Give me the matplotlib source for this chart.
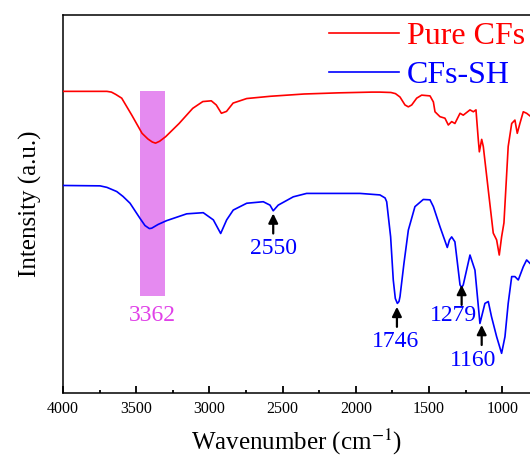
import matplotlib
matplotlib.use('Agg')
import matplotlib.pyplot as plt
from matplotlib.ticker import MultipleLocator

plt.rcParams['font.family'] = ['Liberation Serif', 'DejaVu Serif']
plt.rcParams['mathtext.fontset'] = 'stix'

# FTIR spectra (intensity in arbitrary units, curves already offset)
pure_wn = [4000, 3700, 3669, 3640, 3599, 3530, 3460, 3420, 3390, 3368, 3340, 3299,
           3207, 3114, 3045, 2987, 2953, 2918, 2883, 2838, 2745, 2583, 2353, 2122,
           1891, 1835, 1760, 1729, 1698, 1664, 1641, 1618, 1584, 1550, 1493, 1470,
           1459, 1425, 1391, 1368, 1345, 1323, 1288, 1266, 1220, 1197, 1179, 1163,
           1156, 1140, 1129, 1095, 1061, 1038, 1020, 1004, 988, 959, 935, 913, 897,
           879, 856, 833, 810]
pure_int = [79.8, 79.8, 79.6, 79.0, 78.0, 73.5, 68.7, 67.2, 66.4, 66.1, 66.6, 67.8,
            71.3, 75.3, 77.1, 77.3, 76.2, 74.0, 74.5, 76.7, 77.9, 78.5, 79.1, 79.4,
            79.6, 79.6, 79.5, 79.2, 78.3, 76.2, 75.7, 76.2, 78.0, 78.8, 78.6, 77.0,
            74.4, 73.1, 72.7, 70.9, 71.8, 71.3, 74.0, 73.5, 74.9, 74.4, 74.9, 66.9,
            63.8, 67.1, 65.2, 53.7, 42.3, 40.5, 36.5, 41.3, 45.0, 65.2, 71.3, 72.2,
            68.7, 71.3, 74.4, 74.0, 73.3]

sh_wn = [3998, 3747, 3700, 3633, 3590, 3542, 3474, 3440, 3410, 3394, 3350, 3292,
         3155, 3042, 2973, 2923, 2882, 2837, 2745, 2632, 2586, 2564, 2530, 2427,
         2336, 2199, 1971, 1835, 1800, 1789, 1762, 1744, 1730, 1716, 1705, 1698,
         1671, 1641, 1596, 1539, 1493, 1470, 1425, 1375, 1360, 1345, 1323, 1288,
         1277, 1266, 1220, 1186, 1152, 1118, 1095, 1073, 1038, 1004, 981, 959,
         935, 913, 890, 856, 833, 810]
sh_int = [54.9, 54.8, 54.4, 53.3, 52.0, 50.2, 46.2, 44.3, 43.5, 43.6, 44.6, 45.6,
          47.4, 47.7, 45.8, 42.2, 45.8, 48.4, 50.2, 50.6, 49.7, 48.2, 49.7, 51.9,
          52.8, 52.8, 52.8, 52.4, 51.6, 50.6, 41.3, 29.9, 25.0, 23.7, 24.2, 25.5,
          34.3, 43.1, 49.3, 51.2, 51.1, 49.3, 44.0, 38.5, 40.5, 41.3, 40.0, 28.6,
          27.9, 28.6, 36.5, 32.5, 18.4, 23.7, 24.2, 20.2, 14.9, 10.5, 14.9, 23.7,
          30.8, 30.8, 29.9, 33.4, 35.2, 34.3]

# peak marks: label, arrow x, arrow tip, arrow tail, label x, label y
peak_labels = ['2550', '1746', '1279', '1160']
peak_x = [2564, 1719, 1277, 1140]
peak_tip = [47.5, 22.8, 28.6, 18.0]
peak_tail = [42.2, 17.5, 23.3, 12.7]
label_x = [2564, 1726, 1336, 1200]
label_y = [38.3, 13.6, 20.6, 8.7]

band_wn = (3306, 3472)
band_int = (25.6, 80.0)
band_label = '3362'

fig = plt.figure(figsize=(5.30, 4.59), dpi=100)
ax = fig.add_axes([63 / 530, 1 - 393 / 459, 1 - 63 / 530, (393 - 15) / 459])

ax.fill_between(band_wn, band_int[0], band_int[1], color='#E58AF0', lw=0, zorder=1)
ax.text((band_wn[0] + band_wn[1]) / 2, 20.6, band_label, color='#E040E8',
        fontsize=17, ha='center', va='center')

ax.plot(pure_wn, pure_int, color='#FF0000', lw=1.2, label='Pure CFs', zorder=3)
ax.plot(sh_wn, sh_int, color='#0000FF', lw=1.2, label='CFs-SH', zorder=3)

for lab, x, tip, tail, lx, ly in zip(peak_labels, peak_x, peak_tip, peak_tail, label_x, label_y):
    ax.annotate('', xy=(x, tip), xytext=(x, tail),
                arrowprops=dict(arrowstyle='-|>', color='black', lw=1.6,
                                mutation_scale=14, shrinkA=0, shrinkB=0))
    ax.text(lx, ly, lab, color='#0000FF', fontsize=17, ha='center', va='center')

ax.set_xlim(4000, 810)
ax.set_ylim(0, 100)
ax.xaxis.set_major_locator(MultipleLocator(500))
ax.xaxis.set_minor_locator(MultipleLocator(250))
ax.tick_params(axis='x', which='major', direction='in', length=5, width=1.3,
               labelsize=11.5, pad=6)
ax.tick_params(axis='x', which='minor', direction='in', length=2.5, width=1.3)
ax.set_yticks([])
for side in ['left', 'bottom', 'top']:
    ax.spines[side].set_linewidth(1.1)
ax.spines['right'].set_visible(False)

ax.set_xlabel('Wavenumber (cm$^{-1}$)', fontsize=18, labelpad=7)
ax.set_ylabel('Intensity (a.u.)', fontsize=18, labelpad=15)

leg = ax.legend(loc='upper right', bbox_to_anchor=(1.0, 0.995), frameon=False,
                fontsize=23, handlelength=2.2, handletextpad=0.25,
                labelspacing=0.3, borderaxespad=0.05, borderpad=0.1)
for txt, line in zip(leg.get_texts(), leg.get_lines()):
    txt.set_color(line.get_color())

fig.savefig('out.png', dpi=100)
plt.close(fig)
